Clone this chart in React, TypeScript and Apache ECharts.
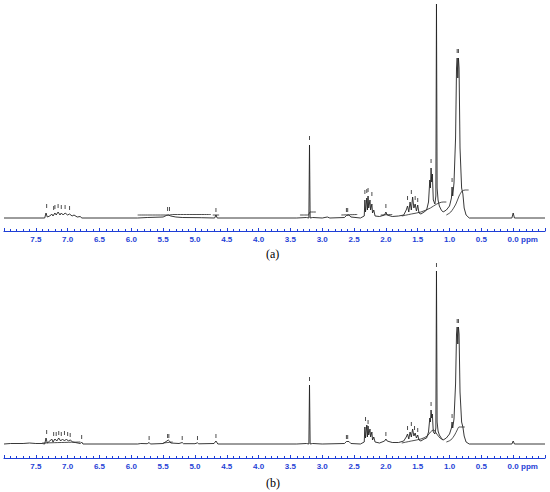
import React, { useEffect, useRef } from "react";
import * as echarts from "echarts";

// chemical shift (ppm), intensity (arbitrary units)
const spectrumA: number[][] = [
  [8.0, 0], [7.36, 0], [7.34, 5], [7.32, 1], [7.28, 2], [7.25, 4], [7.23, 2], [7.2, 5], [7.18, 3], [7.15, 6],
  [7.12, 3], [7.1, 5], [7.07, 3], [7.04, 5], [7.0, 3], [6.97, 4], [6.93, 2], [6.9, 3], [6.85, 1], [6.8, 1.5], [6.78, 0],
  [5.9, 0], [5.75, 0.5], [5.5, 1], [5.45, 2.5], [5.42, 3], [5.38, 2], [5.3, 1], [5.2, 0.5], [4.9, 0.3],
  [4.69, 0], [4.67, 3], [4.65, 0], [3.4, 0], [3.25, 0.5], [3.21, 0], [3.2, 73], [3.19, 0], [3.15, 0.5], [3.0, 0],
  [2.92, 1], [2.88, 0], [2.65, 0.5], [2.62, 2.5], [2.58, 3], [2.55, 1], [2.4, 0], [2.34, 2], [2.33, 18], [2.32, 6],
  [2.3, 20], [2.29, 8], [2.28, 22], [2.27, 10], [2.25, 18], [2.24, 8], [2.22, 14], [2.21, 5], [2.19, 8], [2.17, 2],
  [2.1, 1.5], [2.02, 3], [2.0, 6], [1.98, 3], [1.9, 1.5], [1.8, 2], [1.72, 3], [1.68, 8], [1.66, 12], [1.64, 6],
  [1.62, 16], [1.6, 8], [1.58, 21], [1.56, 10], [1.54, 14], [1.52, 7], [1.5, 13], [1.48, 5], [1.45, 4], [1.4, 6],
  [1.36, 8], [1.33, 16], [1.31, 38], [1.3, 30], [1.29, 50], [1.28, 36], [1.27, 44], [1.255, 18], [1.23, 14],
  [1.215, 22], [1.205, 214], [1.195, 30], [1.18, 18], [1.16, 12], [1.13, 8], [1.1, 6], [1.05, 8], [1.0, 12],
  [0.97, 20], [0.96, 31], [0.95, 22], [0.93, 35], [0.905, 80], [0.89, 150], [0.88, 160], [0.87, 140], [0.86, 160],
  [0.85, 150], [0.835, 70], [0.81, 30], [0.79, 24], [0.77, 10], [0.74, 3], [0.69, 0], [0.02, 0], [0.0, 5],
  [-0.02, 0], [-0.5, 0],
];

const spectrumB: number[][] = [
  [8.0, 0], [7.9, 0.5], [7.7, 0.5], [7.6, 1], [7.5, 0.5], [7.4, 0.5], [7.36, 0], [7.34, 6], [7.32, 1], [7.28, 3],
  [7.25, 5], [7.23, 2], [7.2, 5], [7.17, 3], [7.14, 6], [7.11, 3], [7.08, 5], [7.05, 3], [7.02, 5], [6.99, 3],
  [6.96, 4], [6.92, 2], [6.88, 1.5], [6.8, 0.5], [6.78, 2], [6.76, 0],
  [5.9, 0], [5.85, 0.5], [5.75, 0.3], [5.72, 1.5], [5.7, 0], [5.5, 0.5], [5.44, 3], [5.42, 4], [5.4, 3], [5.38, 1],
  [5.25, 0.5], [5.2, 1.5], [5.18, 0.3], [5.0, 0.3], [4.96, 1.2], [4.94, 0.2], [4.7, 0.5], [4.67, 3], [4.64, 0],
  [3.4, 0], [3.25, 0.5], [3.21, 0], [3.2, 59], [3.19, 0], [3.15, 0.5], [3.0, 0], [2.65, 0.5], [2.62, 2.5],
  [2.58, 2.5], [2.55, 0.5], [2.4, 0], [2.34, 2], [2.33, 17], [2.32, 6], [2.3, 19], [2.29, 7], [2.28, 18], [2.27, 9],
  [2.25, 15], [2.24, 7], [2.22, 12], [2.21, 4], [2.19, 7], [2.17, 2], [2.1, 1], [2.02, 3], [2.0, 5], [1.98, 3],
  [1.9, 1.5], [1.8, 1.5], [1.72, 3], [1.68, 7], [1.66, 10], [1.64, 5], [1.62, 12], [1.6, 7], [1.58, 15], [1.56, 8],
  [1.54, 11], [1.52, 6], [1.5, 9], [1.48, 4], [1.45, 3], [1.4, 5], [1.36, 6], [1.33, 12], [1.31, 26], [1.3, 22],
  [1.29, 34], [1.28, 26], [1.27, 30], [1.255, 12], [1.23, 10], [1.215, 16], [1.205, 173], [1.195, 22], [1.18, 13],
  [1.16, 9], [1.13, 6], [1.1, 4], [1.05, 6], [1.0, 10], [0.97, 16], [0.96, 22], [0.95, 16], [0.93, 25],
  [0.905, 60], [0.89, 110], [0.88, 117], [0.87, 100], [0.86, 117], [0.85, 110], [0.835, 52], [0.81, 22],
  [0.79, 17], [0.77, 8], [0.74, 2], [0.69, 0], [0.02, 0], [0.0, 3], [-0.02, 0], [-0.5, 0],
];

// integral traces (segments)
const integralsA: number[][][] = [
  [[5.9, 3], [5.4, 3], [5.35, 3.5], [4.75, 3.5]],
  [[4.72, 3], [4.62, 3]],
  [[3.35, 3], [3.22, 3], [3.19, 6], [3.1, 6]],
  [[2.7, 3], [2.45, 3.5]],
  [[2.08, 3], [1.9, 3.5]],
  [[1.75, 2], [1.6, 4], [1.45, 6], [1.3, 10], [1.2, 14], [1.1, 16], [1.05, 16]],
  [[1.05, 3], [0.98, 6], [0.9, 14], [0.85, 22], [0.8, 27], [0.75, 28], [0.7, 28]],
];

const integralsB: number[][][] = [
  [[7.4, 1], [6.8, 2]],
  [[5.5, 1], [5.35, 2]],
  [[1.75, 1], [1.6, 3], [1.45, 5], [1.35, 8], [1.3, 12], [1.25, 14], [1.2, 10], [1.15, 6], [1.1, 4]],
  [[1.05, 2], [0.98, 4], [0.92, 9], [0.88, 14], [0.85, 17], [0.8, 17], [0.76, 17]],
];

// peak-pick marks
const marksA: number[][] = [
  [7.33, 12], [7.22, 10], [7.2, 11], [7.15, 12], [7.1, 11], [7.04, 11], [6.97, 10], [5.43, 9], [5.4, 9], [4.67, 8],
  [3.2, 80], [2.62, 8], [2.6, 8], [2.33, 26], [2.3, 27], [2.28, 28], [2.22, 24], [2.0, 12], [1.66, 20], [1.6, 26],
  [1.54, 20], [1.5, 18], [1.29, 57], [0.96, 38], [0.88, 167], [0.86, 167],
];

const marksB: number[][] = [
  [7.33, 12], [7.22, 10], [7.18, 10], [7.14, 11], [7.1, 10], [7.05, 11], [7.0, 10], [6.96, 9], [6.78, 7], [5.72, 6],
  [5.43, 8], [5.41, 8], [5.2, 6], [4.96, 6], [4.67, 8], [3.2, 65], [2.62, 7], [2.6, 7], [2.32, 25], [2.28, 22],
  [2.0, 10], [1.66, 16], [1.6, 20], [1.55, 16], [1.5, 14], [1.29, 40], [0.96, 28], [1.205, 179], [0.88, 123],
  [0.86, 123],
];

const panelCaptions = ["(a)", "(b)"];
const axisUnit = "ppm";

const BLUE = "#1f3fd6";
const INK = "#222222";

function xAxisFor(gridIndex: number) {
  return {
    type: "value",
    gridIndex,
    min: -0.5,
    max: 8.0,
    interval: 0.5,
    inverse: true,
    axisLine: { onZero: false, lineStyle: { color: BLUE, width: 1.2 } },
    axisTick: { inside: true, length: 3, lineStyle: { color: BLUE } },
    minorTick: { show: true, splitNumber: 5, length: 2, lineStyle: { color: BLUE } },
    splitLine: { show: false },
    axisLabel: {
      color: BLUE,
      fontSize: 8,
      fontWeight: "bold",
      fontFamily: "Liberation Sans, Arial, sans-serif",
      margin: 4,
      showMinLabel: false,
      showMaxLabel: false,
      formatter: (v: number) => v.toFixed(1),
    },
  };
}

export default function App() {
  const ref = useRef<HTMLDivElement>(null);
  useEffect(() => {
    if (!ref.current) return;
    const chart = echarts.init(ref.current, null, { renderer: "svg" });
    const series: any[] = [];
    const addPanel = (idx: number, spec: number[][], ints: number[][][], marks: number[][]) => {
      series.push({
        type: "line",
        xAxisIndex: idx,
        yAxisIndex: idx,
        data: spec,
        symbol: "none",
        lineStyle: { color: INK, width: 0.9 },
        silent: true,
      });
      ints.forEach((seg) =>
        series.push({
          type: "line",
          xAxisIndex: idx,
          yAxisIndex: idx,
          data: seg,
          symbol: "none",
          smooth: 0.3,
          lineStyle: { color: INK, width: 0.8 },
          silent: true,
        })
      );
      series.push({
        type: "scatter",
        xAxisIndex: idx,
        yAxisIndex: idx,
        data: marks,
        symbol: "rect",
        symbolSize: [1, 4],
        itemStyle: { color: INK },
        silent: true,
      });
    };
    addPanel(0, spectrumA, integralsA, marksA);
    addPanel(1, spectrumB, integralsB, marksB);

    chart.setOption({
      animation: false,
      backgroundColor: "#ffffff",
      grid: [
        { left: 4, right: 5, top: 0, height: 231 },
        { left: 4, right: 5, top: 260, height: 198 },
      ],
      xAxis: [xAxisFor(0), xAxisFor(1)],
      yAxis: [
        { type: "value", gridIndex: 0, min: -13, max: 218, show: false, splitLine: { show: false } },
        { type: "value", gridIndex: 1, min: -14, max: 184, show: false, splitLine: { show: false } },
      ],
      series,
      graphic: [
        {
          type: "text",
          left: 521,
          top: 235,
          style: { text: axisUnit, fill: BLUE, font: "bold 8px Liberation Sans, Arial, sans-serif" },
        },
        {
          type: "text",
          left: 521,
          top: 462,
          style: { text: axisUnit, fill: BLUE, font: "bold 8px Liberation Sans, Arial, sans-serif" },
        },
        {
          type: "text",
          left: 266,
          top: 248,
          style: { text: panelCaptions[0], fill: "#000", font: "12px Liberation Serif, serif" },
        },
        {
          type: "text",
          left: 266,
          top: 477,
          style: { text: panelCaptions[1], fill: "#000", font: "12px Liberation Serif, serif" },
        },
      ],
    });
    return () => chart.dispose();
  }, []);
  return (
    <div
      ref={ref}
      style={{ position: "absolute", left: 0, top: 0, width: 550, height: 492, background: "#fff" }}
    />
  );
}
